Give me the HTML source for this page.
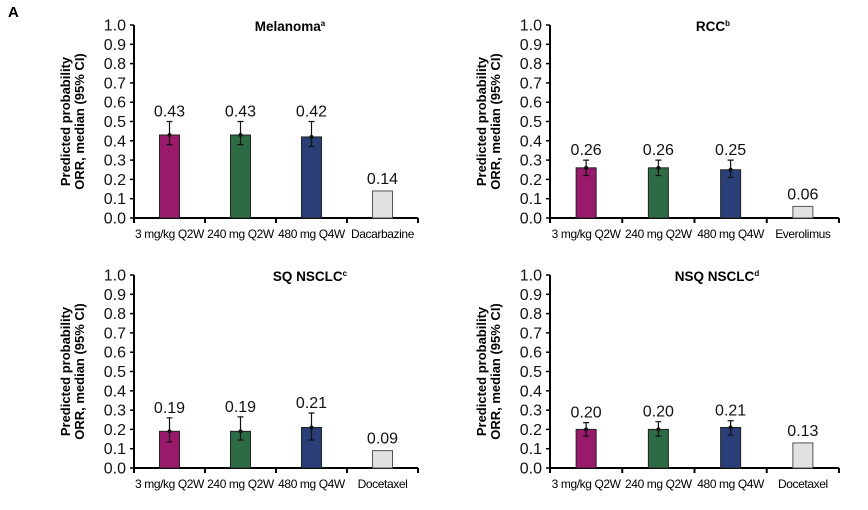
<!DOCTYPE html>
<html><head><meta charset="utf-8"><style>
body{margin:0;background:#fff;width:868px;height:510px;overflow:hidden}
svg{display:block}
text{font-family:"Liberation Sans",Arial,sans-serif}
</style></head><body>
<svg id="chart" width="868" height="510">
<text x="8" y="17" font-size="15" font-weight="bold">A</text>
</svg>
<script>
const categories = ["3 mg/kg Q2W","240 mg Q2W","480 mg Q4W"];
const panelTitles = ["Melanoma","RCC","SQ NSCLC","NSQ NSCLC"];
const titleSups = ["a","b","c","d"];
const comparators = ["Dacarbazine","Everolimus","Docetaxel","Docetaxel"];
const medianValues = [[0.43,0.43,0.42,0.14],[0.26,0.26,0.25,0.06],[0.19,0.19,0.21,0.09],[0.20,0.20,0.21,0.13]];
const valueLabels = [["0.43","0.43","0.42","0.14"],["0.26","0.26","0.25","0.06"],["0.19","0.19","0.21","0.09"],["0.20","0.20","0.21","0.13"]];
const ciLow = [[0.38,0.38,0.37,null],[0.22,0.22,0.21,null],[0.135,0.145,0.145,null],[0.165,0.165,0.17,null]];
const ciHigh = [[0.50,0.50,0.50,null],[0.30,0.30,0.30,null],[0.26,0.265,0.285,null],[0.235,0.24,0.245,null]];
const yTicks = [0,0.1,0.2,0.3,0.4,0.5,0.6,0.7,0.8,0.9,1.0];
const yTickLabels = ["0.0","0.1","0.2","0.3","0.4","0.5","0.6","0.7","0.8","0.9","1.0"];

const colors = ["#99196b","#2d6b45","#2a3f78","#e1e1e1"];
const layout = [{x0:134,x1:418,top:25,bot:218,tc:290},{x0:550,x1:839,top:25,bot:218,tc:713},
                {x0:134,x1:418,top:275,bot:468,tc:310},{x0:550,x1:839,top:275,bot:468,tc:717}];
const NS="http://www.w3.org/2000/svg";
const svg=document.getElementById('chart');
function mk(tag,attrs,parent,txt){const e=document.createElementNS(NS,tag);for(const k in attrs)e.setAttribute(k,attrs[k]);if(txt!==undefined)e.textContent=txt;parent.appendChild(e);return e;}

layout.forEach((L,p)=>{
  const g=mk('g',{},svg);
  
  
  const y=v=>L.bot-v*(L.bot-L.top);
  const bw=(L.x1-L.x0)/4;
  const xc=i=>L.x0+bw*(i+0.5);
  const t=mk('text',{x:L.tc,y:L.top+6,'font-size':13.5,'font-weight':'bold','text-anchor':'middle'},g,panelTitles[p]);
  
  
  mk('tspan',{'font-size':8,dy:-5},t,titleSups[p]);
  const yt=mk('text',{transform:`translate(${L.x0-64},${(L.top+L.bot)/2}) rotate(-90)`,'font-size':13,'font-weight':'bold','text-anchor':'middle'},g);
  
  
  mk('tspan',{x:0,dy:0},yt,'Predicted probability');
  mk('tspan',{x:0,dy:14},yt,'ORR, median (95% CI)');
  yTicks.forEach((v,i)=>{
    mk('line',{x1:L.x0-4,x2:L.x0,y1:y(v),y2:y(v),stroke:'#000','stroke-width':1.5},g);
    const tl=mk('text',{x:L.x0-8,y:y(v)+5.5,'font-size':16,'text-anchor':'end',fill:'#111'},g,yTickLabels[i]);
    
    
  });
  const ya=mk('line',{x1:L.x0,x2:L.x0,y1:L.top,y2:L.bot+1,stroke:'#000','stroke-width':2},g);
  
  
  const xa=mk('line',{x1:L.x0-1,x2:L.x1,y1:L.bot,y2:L.bot,stroke:'#000','stroke-width':2},g);
  
  
  for(let i=0;i<=4;i++) mk('line',{x1:L.x0+bw*i,x2:L.x0+bw*i,y1:L.bot,y2:L.bot+5,stroke:'#000','stroke-width':2},g);
  const cats=categories.concat([comparators[p]]);
  cats.forEach((c,i)=>{
    const v=medianValues[p][i];
    const b=mk('rect',{x:xc(i)-10,y:y(v),width:20,height:L.bot-y(v),fill:colors[i],stroke:i==3?'#555':'#222','stroke-width':1},g);
    
    
    let labTop=y(v);
    if(ciLow[p][i]!=null){
      const lo=y(ciLow[p][i]),hi=y(ciHigh[p][i]);
      const eb=mk('path',{d:`M${xc(i)},${lo}V${hi}M${xc(i)-3},${lo}H${xc(i)+3}M${xc(i)-3},${hi}H${xc(i)+3}`,stroke:'#111','stroke-width':1.2,fill:'none'},g);
      
      
      mk('circle',{cx:xc(i),cy:y(v),r:2,fill:'#111'},g);
      labTop=hi+2;
    }
    const vl=mk('text',{x:xc(i),y:labTop-7,'font-size':16,'text-anchor':'middle',fill:'#111'},g,valueLabels[p][i]);
    
    
    const xl=mk('text',{x:xc(i),y:L.bot+20,'font-size':12,'text-anchor':'middle','letter-spacing':-0.4,fill:'#000'},g,c);
    
    
  });
});
</script>
</body></html>
